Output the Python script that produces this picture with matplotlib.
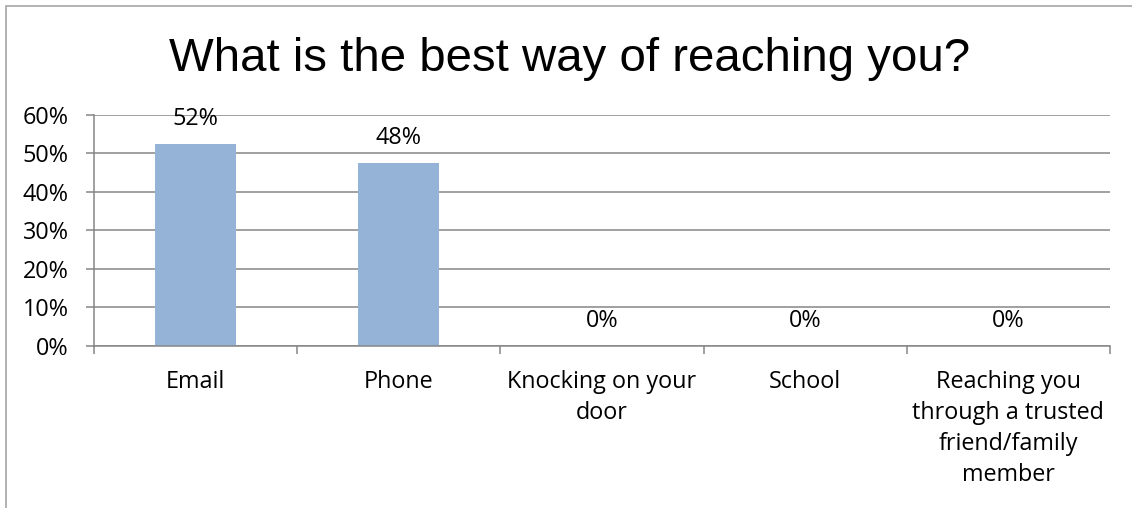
import matplotlib
matplotlib.use("Agg")
import matplotlib.pyplot as plt
from matplotlib.patches import Rectangle
from matplotlib.ticker import FuncFormatter, FixedLocator

categories = ["Email", "Phone", "Knocking on your\ndoor", "School",
              "Reaching you\nthrough a trusted\nfriend/family\nmember"]
shares = [0.524, 0.476, 0.0, 0.0, 0.0]
value_labels = ["52%", "48%", "0%", "0%", "0%"]
y_ticks = [0.0, 0.1, 0.2, 0.3, 0.4, 0.5, 0.6]
title = "What is the best way of reaching you?"

W, H = 1132, 508
fig = plt.figure(figsize=(W / 100, H / 100), dpi=100)
fig.patch.set_facecolor("white")

# outer chart frame
fig.add_artist(Rectangle((6 / W, -0.05), 1.2, 1 - 6 / H + 0.05,
                         transform=fig.transFigure, fill=False,
                         edgecolor="#a6a6a6", lw=1.2, clip_on=False))

ax = fig.add_axes([94 / W, 1 - 346 / H, (1110 - 94) / W, (346 - 114.7) / H])

label_font = "Open Sans"
fs = 16.8
grid_col = "#868686"

x = list(range(len(categories)))
ax.bar(x, shares, width=0.4, color="#95b3d7", zorder=3)

ax.set_xlim(-0.5, len(categories) - 0.5)
ax.set_ylim(0, 0.6)

ax.yaxis.set_major_locator(FixedLocator(y_ticks))
ax.yaxis.set_major_formatter(FuncFormatter(lambda v, p: f"{round(v * 100):d}%"))
ax.grid(axis="y", color=grid_col, lw=1.1, zorder=0)

ax.set_xticks(x)
ax.set_xticklabels(categories, fontfamily=label_font, fontsize=fs,
                   linespacing=1.38, va="top")
ax.set_xticks([i - 0.5 for i in range(len(categories) + 1)], minor=True)
ax.tick_params(axis="x", which="major", length=0, pad=17.5)
ax.tick_params(axis="x", which="minor", length=5.8, color=grid_col, width=1.1)
ax.tick_params(axis="y", length=5.8, color=grid_col, width=1.1, pad=12.5,
               labelsize=fs)
for lab in ax.get_yticklabels():
    lab.set_fontfamily(label_font)

for side in ("top", "right"):
    ax.spines[side].set_visible(False)
for side in ("left", "bottom"):
    ax.spines[side].set_color(grid_col)
    ax.spines[side].set_linewidth(1.1)
    ax.spines[side].set_zorder(4)

for xi, v, txt in zip(x, shares, value_labels):
    ax.annotate(txt, (xi, v), xytext=(0, 25), textcoords="offset pixels",
                ha="center", va="center", fontfamily=label_font,
                fontsize=fs, color="#000000")

fig.text(570 / W, 1 - 71 / H, title, ha="center", va="baseline",
         fontfamily="Liberation Sans", fontsize=34.1, color="#000000")

fig.savefig("out.png", dpi=100)
